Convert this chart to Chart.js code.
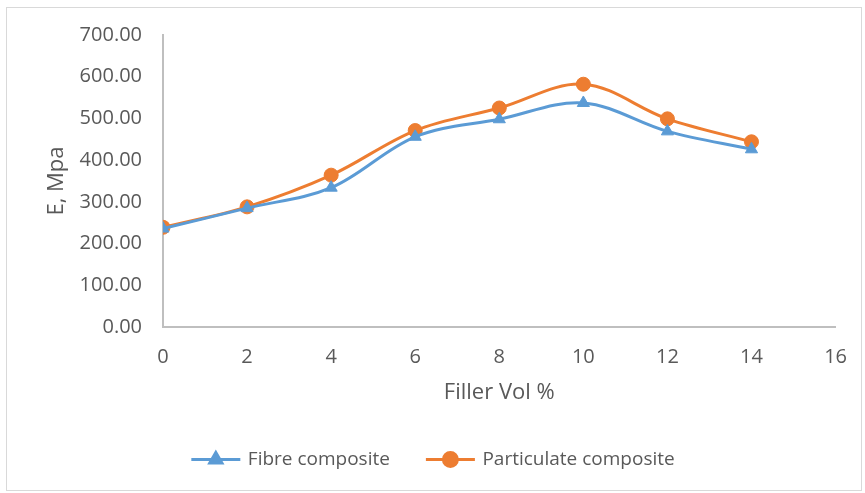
<!DOCTYPE html>
<html>
<head>
<meta charset="utf-8">
<script src="https://cdn.jsdelivr.net/npm/chart.js@4.4.1/dist/chart.umd.min.js"></script>
<style>
    body { margin: 0; background: #fff; }
    #wrap { position: relative; width: 865px; height: 493px; }
</style>
</head>
<body>
<div id="wrap"><canvas id="chart" width="865" height="493"></canvas></div>
<script>
// data
const fillerVol = [0, 2, 4, 6, 8, 10, 12, 14];
const fibreValues = [236, 285, 334, 456, 498, 537, 469, 426];
const particulateValues = [239, 288, 364, 471, 525, 582, 499, 444];
const seriesNames = ['Fibre composite', 'Particulate composite'];
const seriesColors = ['#5B9BD5', '#ED7D31'];
const seriesMarkers = ['triangle', 'circle'];

const textColor = '#595959';
const axisColor = '#BFBFBF';
const fontFamily = '"Open Sans", "Liberation Sans", sans-serif';

function toPoints(values) {
    return fillerVol.map((x, i) => ({ x: x, y: values[i] }));
}

// outer frame like the Excel chart area
const framePlugin = {
    id: 'frame',
    beforeDraw(chart) {
        const ctx = chart.ctx;
        ctx.save();
        ctx.fillStyle = '#fff';
        ctx.fillRect(0, 0, chart.width, chart.height);
        ctx.strokeStyle = '#D9D9D9';
        ctx.lineWidth = 1;
        ctx.strokeRect(6.5, 7.5, chart.width - 10, chart.height - 10);
        ctx.restore();
    }
};

// draw line + marker samples in the legend boxes
const legendSamples = {
    id: 'legendSamples',
    afterDraw(chart) {
        const legend = chart.legend;
        if (!legend || !legend.legendHitBoxes) return;
        const ctx = chart.ctx;
        const boxW = legend.options.labels.boxWidth;
        legend.legendHitBoxes.forEach((box, i) => {
            const cy = box.top + box.height / 2;
            ctx.save();
            ctx.strokeStyle = seriesColors[i];
            ctx.lineWidth = 3;
            ctx.beginPath();
            ctx.moveTo(box.left, cy);
            ctx.lineTo(box.left + boxW + 2, cy);
            ctx.stroke();
            ctx.fillStyle = seriesColors[i];
            ctx.strokeStyle = seriesColors[i];
            Chart.helpers.drawPoint(ctx, {
                pointStyle: seriesMarkers[i],
                radius: 7,
                borderWidth: 1,
                rotation: 0
            }, box.left + boxW / 2 + 1, cy);
            ctx.restore();
        });
    }
};

const ctx = document.getElementById('chart').getContext('2d');
new Chart(ctx, {
    type: 'line',
    data: {
        datasets: [0, 1].map(i => ({
            label: seriesNames[i],
            data: toPoints(i === 0 ? fibreValues : particulateValues),
            borderColor: seriesColors[i],
            backgroundColor: seriesColors[i],
            borderWidth: 3,
            pointStyle: seriesMarkers[i],
            pointRadius: 7,
            pointHoverRadius: 7,
            pointBorderWidth: 1,
            tension: 0.35,
            fill: false
        }))
    },
    options: {
        responsive: false,
        animation: false,
        layout: { padding: { left: 30, right: 29, top: 35, bottom: 14 } },
        scales: {
            x: {
                type: 'linear',
                min: 0,
                max: 16,
                ticks: { stepSize: 2, color: textColor, font: { family: fontFamily, size: 20 }, padding: 18 },
                grid: { display: false, drawTicks: false },
                border: { color: axisColor, width: 2 },
                title: { display: true, text: 'Filler Vol %', color: textColor, font: { family: fontFamily, size: 22 }, padding: { top: 8, bottom: 8 } },
                afterFit(scale) { scale.height = 87; }
            },
            y: {
                min: 0,
                max: 700,
                ticks: {
                    stepSize: 100,
                    color: textColor,
                    font: { family: fontFamily, size: 20 },
                    padding: 21,
                    callback: v => v.toFixed(2)
                },
                grid: { display: false, drawTicks: false },
                border: { color: axisColor, width: 2 },
                title: { display: true, text: 'E, Mpa', color: textColor, font: { family: fontFamily, size: 22 }, padding: { top: 14, bottom: 0 } },
                afterFit(scale) { scale.width = 133; }
            }
        },
        plugins: {
            tooltip: { enabled: false },
            legend: {
                position: 'bottom',
                labels: {
                    color: textColor,
                    font: { family: fontFamily, size: 19 },
                    boxWidth: 47,
                    boxHeight: 12,
                    padding: 36,
                    generateLabels: chart => seriesNames.map((name, i) => ({
                        text: name,
                        fillStyle: 'rgba(0,0,0,0)',
                        strokeStyle: 'rgba(0,0,0,0)',
                        lineWidth: 0,
                        fontColor: textColor,
                        datasetIndex: i,
                        hidden: false
                    }))
                }
            }
        }
    },
    plugins: [framePlugin, legendSamples]
});
</script>
</body>
</html>
